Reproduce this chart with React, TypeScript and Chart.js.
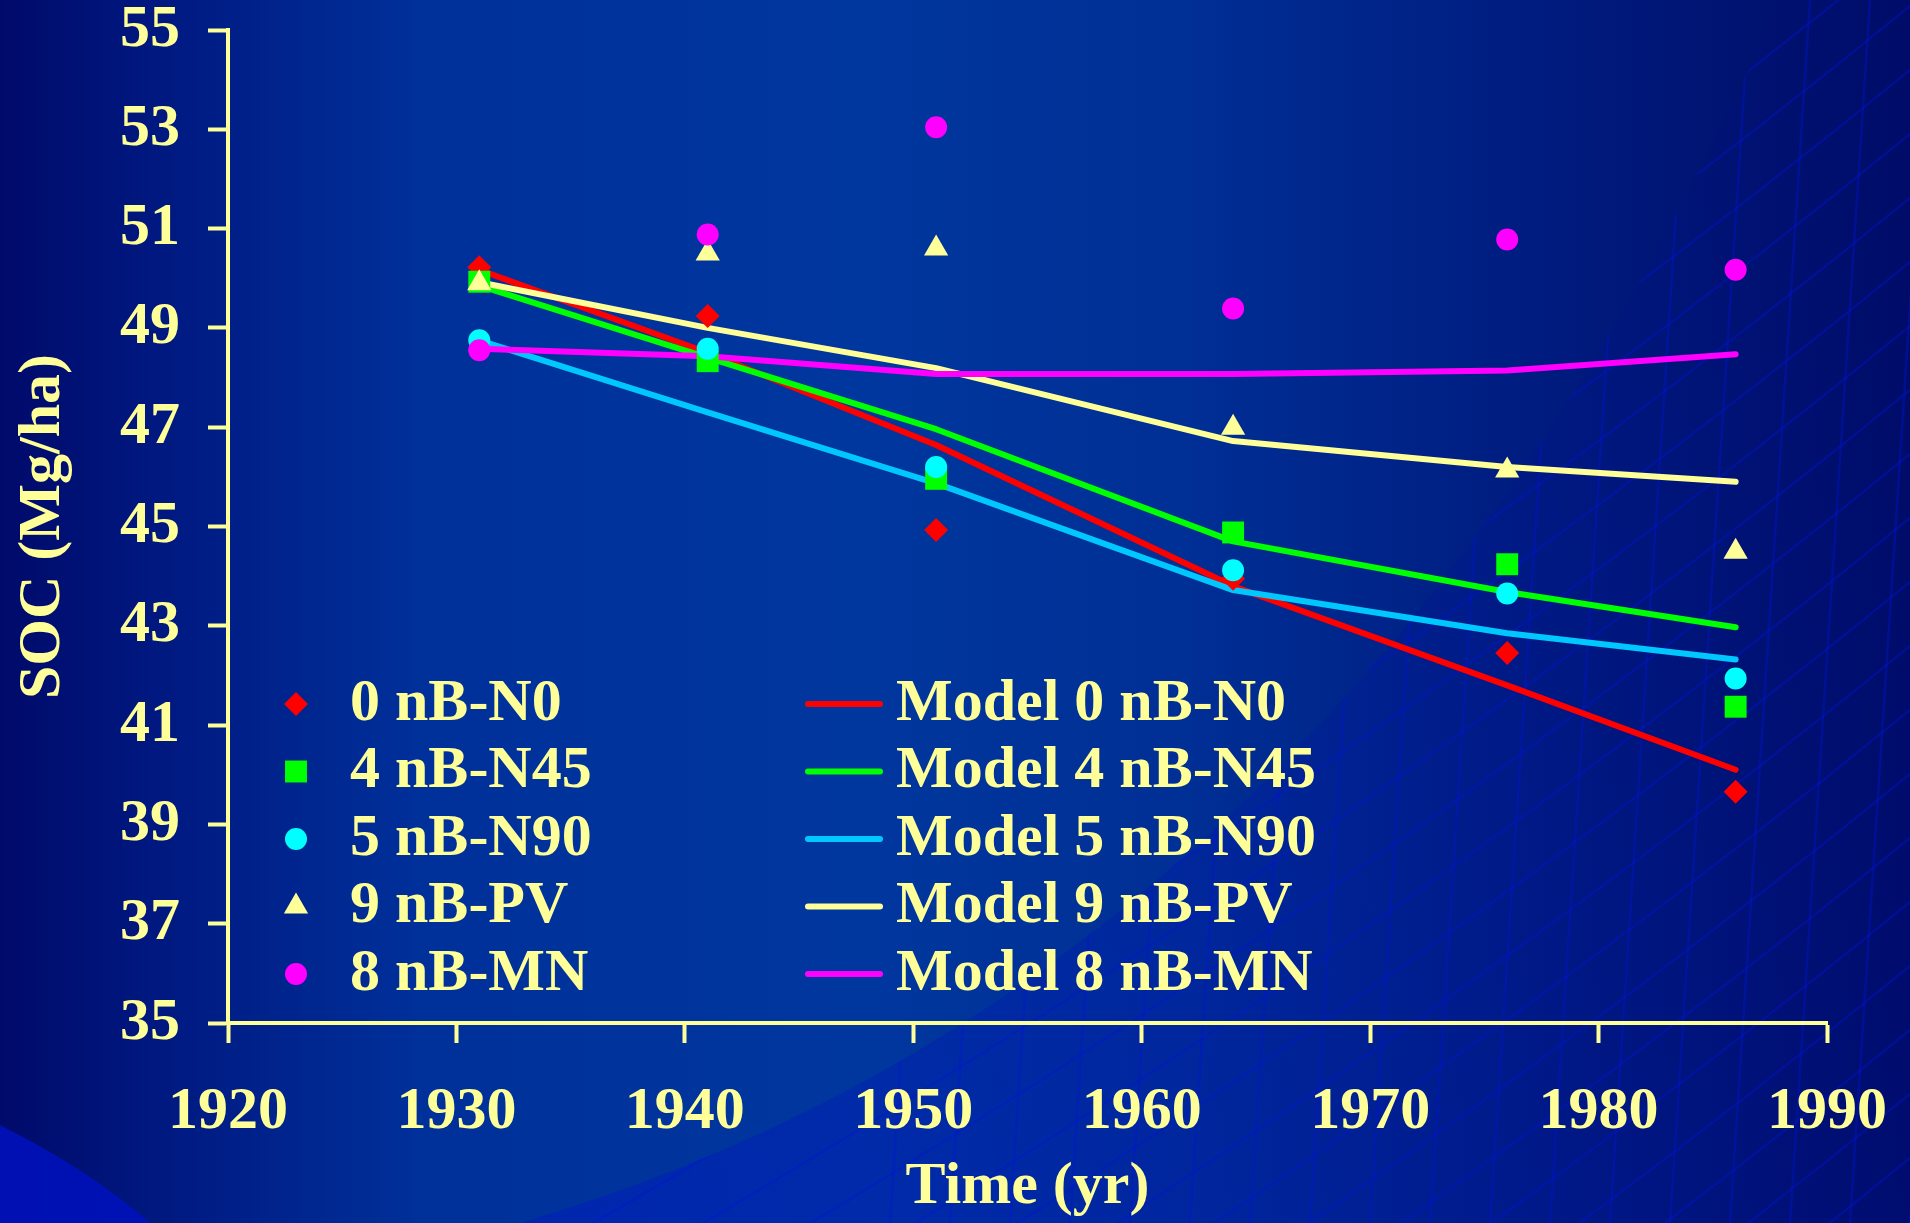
import React, { useEffect, useRef } from 'react';
import { Chart, registerables } from 'chart.js';
import { drawPoint } from 'chart.js/helpers';

Chart.register(...registerables);

// ---- data ----
const years = [1931, 1941, 1951, 1964, 1976, 1986];
const xTickValues = [1920, 1930, 1940, 1950, 1960, 1970, 1980, 1990];
const yTickValues = [35, 37, 39, 41, 43, 45, 47, 49, 51, 53, 55];

const obsLabels = ['0 nB-N0', '4 nB-N45', '5 nB-N90', '9 nB-PV', '8 nB-MN'];
const modelLabels = ['Model 0 nB-N0', 'Model 4 nB-N45', 'Model 5 nB-N90', 'Model 9 nB-PV', 'Model 8 nB-MN'];

const obsN0 = [50.22, 49.24, 44.93, 43.95, 42.45, 39.66];
const obsN45 = [49.93, 48.33, 45.96, 44.88, 44.24, 41.37];
const obsN90 = [48.75, 48.58, 46.2, 44.12, 43.65, 41.94];
const obsPV = [49.9, 50.5, 50.6, 46.99, 46.13, 44.49];
const obsMN = [48.55, 50.88, 53.04, 49.39, 50.78, 50.17];

const modN0 = [50.17, 48.5, 46.64, 43.8, 41.8, 40.1];
const modN45 = [49.85, 48.4, 46.96, 44.7, 43.68, 42.97];
const modN90 = [48.75, 47.3, 45.87, 43.72, 42.85, 42.32];
const modPV = [49.92, 49.0, 48.19, 46.72, 46.2, 45.9];
const modMN = [48.58, 48.43, 48.07, 48.07, 48.14, 48.47];

const xTitle = 'Time (yr)';
const yTitle = 'SOC (Mg/ha)';

// ---- styles ----
const TEXT = '#FFFF99';
const FONT = "'Liberation Serif', 'Times New Roman', serif";
const obsStyles = [
  { color: '#FF0000', shape: 'rectRot', r: 12 },
  { color: '#00FF00', shape: 'rect', r: 15.5 },
  { color: '#00FFFF', shape: 'circle', r: 11 },
  { color: '#FFFF99', shape: 'triangle', r: 14 },
  { color: '#FF00FF', shape: 'circle', r: 11 },
];
const modelColors = ['#FF0000', '#00FF00', '#00C8FF', '#FFFF99', '#FF00FF'];

const toPts = (vals: number[]) => vals.map((v, i) => ({ x: years[i], y: v }));

const bgPlugin = {
  id: 'bg',
  beforeDraw(chart: any) {
    const { ctx, width, height } = chart;
    ctx.save();
    const g = ctx.createLinearGradient(0, 0, width, 0);
    g.addColorStop(0, '#000A6A');
    g.addColorStop(0.08, '#001880');
    g.addColorStop(0.22, '#00309A');
    g.addColorStop(0.45, '#00379E');
    g.addColorStop(0.62, '#002F95');
    g.addColorStop(0.8, '#001C80');
    g.addColorStop(1, '#000C66');
    ctx.fillStyle = g;
    ctx.fillRect(0, 0, width, height);

    // bright arc bottom-left corner
    ctx.save();
    ctx.beginPath();
    ctx.moveTo(0, 1125);
    ctx.quadraticCurveTo(90, 1170, 150, height);
    ctx.lineTo(0, height);
    ctx.closePath();
    ctx.fillStyle = 'rgba(0,18,190,0.85)';
    ctx.fill();
    ctx.restore();

    // mesh region lower right
    ctx.beginPath();
    ctx.moveTo(520, height);
    ctx.quadraticCurveTo(1350, 980, 1780, 0);
    ctx.lineTo(width, 0);
    ctx.lineTo(width, height);
    ctx.closePath();
    ctx.clip();
    const mg = ctx.createLinearGradient(600, height, width, 300);
    mg.addColorStop(0, 'rgba(0,20,200,0.4)');
    mg.addColorStop(0.5, 'rgba(0,15,170,0.22)');
    mg.addColorStop(1, 'rgba(0,10,120,0.12)');
    ctx.fillStyle = mg;
    ctx.fillRect(0, 0, width, height);
    ctx.strokeStyle = 'rgba(0,20,210,0.38)';
    ctx.lineWidth = 2.5;
    for (let k = -20; k < 40; k++) {
      const y0 = k * 64;
      ctx.beginPath();
      ctx.moveTo(500, y0 + 700);
      ctx.quadraticCurveTo(1300, y0 + 250, width, y0 - 250);
      ctx.stroke();
    }
    for (let k = 0; k < 30; k++) {
      const x0 = 950 + k * 60;
      ctx.beginPath();
      ctx.moveTo(x0 - 60, height);
      ctx.quadraticCurveTo(x0 - 20, 600, x0 + 20, 0);
      ctx.stroke();
    }
    ctx.restore();
  },
};

const legendPlugin = {
  id: 'customLegend',
  afterDraw(chart: any) {
    const { ctx, chartArea } = chart;
    const ds = chart.data.datasets;
    ctx.save();
    ctx.font = `bold 60px ${FONT}`;
    ctx.fillStyle = TEXT;
    ctx.textBaseline = 'middle';
    ctx.textAlign = 'left';
    const rowY = (i: number) => chartArea.bottom - 319 + i * 67.5;
    const left = chartArea.left;
    for (let i = 0; i < 5; i++) {
      const d = ds[5 + i];
      const y = rowY(i);
      ctx.fillStyle = d.pointBackgroundColor;
      drawPoint(ctx, { pointStyle: d.pointStyle, radius: d.pointRadius, rotation: 0, borderWidth: 0 } as any, left + 68, y);
      ctx.fillStyle = TEXT;
      ctx.fillText(d.label, left + 122, y);
    }
    for (let i = 0; i < 5; i++) {
      const d = ds[i];
      const y = rowY(i);
      ctx.strokeStyle = d.borderColor;
      ctx.lineWidth = 6;
      ctx.lineCap = 'round';
      ctx.beginPath();
      ctx.moveTo(left + 580, y);
      ctx.lineTo(left + 652, y);
      ctx.stroke();
      ctx.fillStyle = TEXT;
      ctx.fillText(d.label, left + 668, y);
    }
    ctx.restore();
  },
};

export default function App() {
  const ref = useRef<HTMLCanvasElement | null>(null);
  useEffect(() => {
    document.body.style.margin = '0';
    document.body.style.overflow = 'hidden';
    const canvas = ref.current!;
    const modelSets = [modN0, modN45, modN90, modPV, modMN].map((vals, i) => ({
      label: modelLabels[i],
      data: toPts(vals),
      showLine: true,
      borderColor: modelColors[i],
      backgroundColor: modelColors[i],
      borderWidth: 6,
      borderCapStyle: 'round',
      borderJoinStyle: 'round',
      pointRadius: 0,
      pointHoverRadius: 0,
      tension: 0,
      fill: false,
      order: 14 - i,
    }));
    const obsSets = [obsN0, obsN45, obsN90, obsPV, obsMN].map((vals, i) => ({
      label: obsLabels[i],
      data: toPts(vals),
      showLine: false,
      pointStyle: obsStyles[i].shape,
      pointRadius: obsStyles[i].r,
      pointHoverRadius: obsStyles[i].r,
      pointBackgroundColor: obsStyles[i].color,
      pointBorderColor: obsStyles[i].color,
      pointBorderWidth: 0,
      borderColor: obsStyles[i].color,
      backgroundColor: obsStyles[i].color,
      order: 5 - i,
    }));
    const tickFont = { family: FONT, size: 60, weight: 'bold' as const, lineHeight: 1.2 };
    const titleFont = { family: FONT, size: 60, weight: 'bold' as const, lineHeight: 1.2 };
    const noPad = (s: any) => {
      s.paddingTop = 0;
      s.paddingBottom = 0;
      s.paddingLeft = 0;
      s.paddingRight = 0;
    };
    const chart = new Chart(canvas, {
      type: 'line',
      data: { datasets: [...modelSets, ...obsSets] as any },
      options: {
        responsive: false,
        animation: false,
        events: [],
        layout: { padding: { top: 30, right: 83, left: 0, bottom: 0 } },
        plugins: { legend: { display: false }, tooltip: { enabled: false } },
        scales: {
          x: {
            type: 'linear',
            min: 1920,
            max: 1990,
            afterBuildTicks: (s: any) => {
              s.ticks = xTickValues.map((v) => ({ value: v }));
            },
            afterFit: (s: any) => {
              s.height = 200;
              noPad(s);
            },
            ticks: {
              color: TEXT,
              font: tickFont,
              padding: 33,
              maxRotation: 0,
              autoSkip: false,
              callback: (v: any) => String(v),
            },
            grid: {
              display: true,
              drawOnChartArea: false,
              drawTicks: true,
              tickLength: 20,
              tickWidth: 4,
              tickColor: TEXT,
              color: TEXT,
            },
            border: { display: true, color: TEXT, width: 4 },
            title: { display: true, text: xTitle, color: TEXT, font: titleFont, padding: { top: 0, bottom: 0 } },
          },
          y: {
            type: 'linear',
            min: 35,
            max: 55,
            afterBuildTicks: (s: any) => {
              s.ticks = yTickValues.map((v) => ({ value: v }));
            },
            afterFit: (s: any) => {
              s.width = 228;
              noPad(s);
            },
            ticks: {
              color: TEXT,
              font: tickFont,
              padding: 28,
              autoSkip: false,
              callback: (v: any) => String(v),
            },
            grid: {
              display: true,
              drawOnChartArea: false,
              drawTicks: true,
              tickLength: 20,
              tickWidth: 4,
              tickColor: TEXT,
              color: TEXT,
            },
            border: { display: true, color: TEXT, width: 4 },
            title: { display: true, text: yTitle, color: TEXT, font: titleFont, padding: { top: 7, bottom: 0 } },
          },
        },
      } as any,
      plugins: [bgPlugin, legendPlugin],
    });
    return () => chart.destroy();
  }, []);
  return (
    <div style={{ width: 1910, height: 1223 }}>
      <canvas ref={ref} width={1910} height={1223} style={{ display: 'block', width: 1910, height: 1223 }} />
    </div>
  );
}
